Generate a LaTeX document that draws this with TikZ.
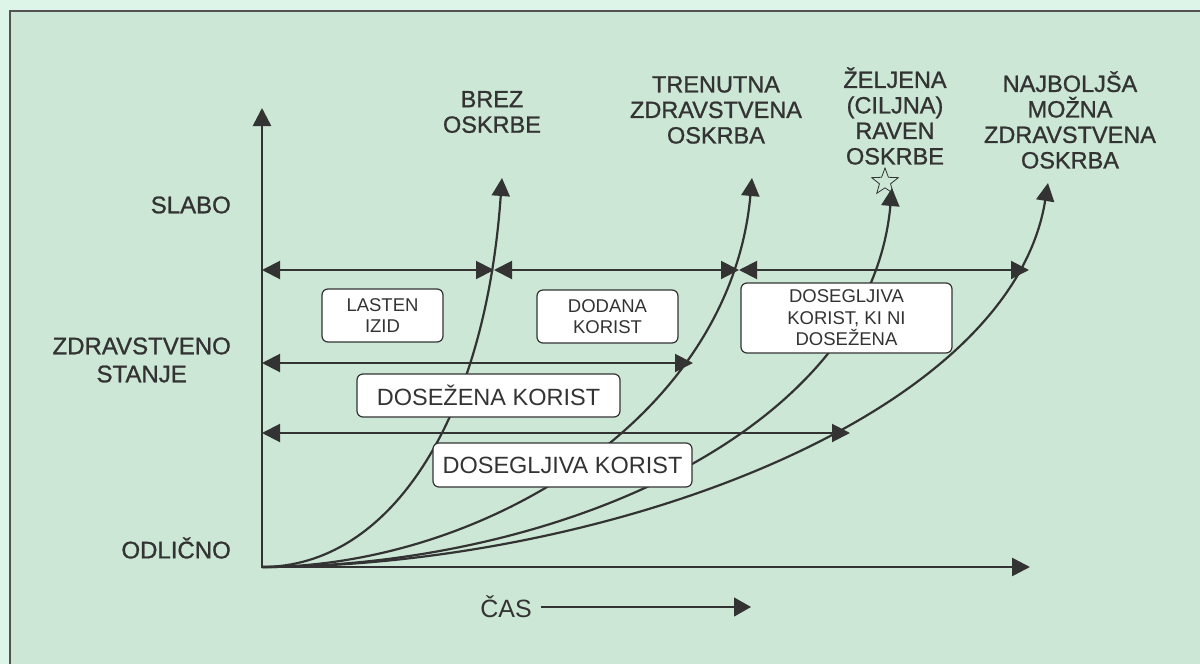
\documentclass[tikz,border=0pt]{standalone}
\usepackage{fontspec}
\setmainfont{Liberation Sans}
\newfontfamily\headfont[FakeBold=1]{Liberation Sans}
\usetikzlibrary{positioning,arrows.meta,shapes.geometric}
\definecolor{bg}{HTML}{CCE7D6}
\definecolor{outer}{HTML}{DDF5E8}
\definecolor{ink}{HTML}{333333}

\begin{document}
\begin{tikzpicture}[x=1pt,y=-1pt]
		\tikzstyle{ax} = [line width=2.6, draw=ink, {Triangle[length=18pt,width=18pt]}-{Triangle[length=18pt,width=18pt]}]
		\tikzstyle{curve} = [line width=2.2, draw=ink, -{Triangle[length=18pt,width=18pt]}]
		\tikzstyle{span} = [line width=2, draw=ink, {Triangle[length=18pt,width=18pt]}-{Triangle[length=18pt,width=18pt]}]
		\tikzstyle{thinarrow} = [line width=1.3, draw=ink, -{Triangle[length=17pt,width=19pt]}]
		\tikzstyle{lbl} = [text=ink, align=center, inner sep=0, font=\headfont\fontsize{23.5}{25.5}\selectfont]
		\tikzstyle{axlbl} = [text=ink, align=center, inner sep=0, font=\headfont\fontsize{24}{28}\selectfont]
		\tikzstyle{box} = [draw=ink, line width=1.2, fill=white, rounded corners=6, align=center, text=ink, inner sep=0]
		\tikzstyle{small} = [font=\fontsize{18.5}{21.5}\selectfont]
		\tikzstyle{big} = [font=\fontsize{23.5}{26}\selectfont]
		\useasboundingbox (0,0) rectangle (1200,664);
		\fill [outer] (0,0) rectangle (1200,664);
		\draw [fill=bg, draw=ink!85, line width=2] (10,11) rectangle (1215,680);
		% axes
		\coordinate (v0) at (262,567);
		\coordinate (v1) at (262,108);
		\coordinate (v2) at (1030,567);
		\draw [ax] (v1) -- (v0) -- (v2);
		\node [axlbl, anchor=east] (v3) at (231,205) {SLABO};
		\node [axlbl, anchor=east] (v4) at (231,360) {ZDRAVSTVENO\\STANJE};
		\node [axlbl, anchor=east] (v5) at (231,548) {ODLIČNO};
		% curve labels
		\node [lbl] (v6) at (492,112) {BREZ\\OSKRBE};
		\node [lbl] (v7) at (716,110) {TRENUTNA\\ZDRAVSTVENA\\OSKRBA};
		\node [lbl] (v8) at (895,116) {ŽELJENA\\(CILJNA)\\RAVEN\\OSKRBE};
		\node [lbl] (v9) at (1070,120) {NAJBOLJŠA\\MOŽNA\\ZDRAVSTVENA\\OSKRBA};
		\node [star, star points=5, star point ratio=2.4, draw=ink, line width=0.8, minimum size=28, inner sep=0] (v10) at (885,182) {};
		% curves
		\coordinate (v11) at (502,178);
		\coordinate (v12) at (752,178);
		\coordinate (v13) at (892,188);
		\coordinate (v14) at (1048,183);
		\draw [curve] (v0) .. controls +(128,0) and +(-17,242) .. (v11);
		\draw [curve] (v0) .. controls +(218,0) and +(-22,242) .. (v12);
		\draw [curve] (v0) .. controls +(298,0) and +(-22,242) .. (v13);
		\draw [curve] (v0) .. controls +(338,0) and +(-38,237) .. (v14);
		% spans
		\coordinate (v15) at (262,270);
		\coordinate (v16) at (494,270);
		\coordinate (v17) at (739,270);
		\coordinate (v18) at (1029,270);
		\draw [span] (v15) -- (v16);
		\draw [span] (v16) -- (v17);
		\draw [span] (v17) -- (v18);
		\coordinate (v19) at (262,363);
		\coordinate (v20) at (693,363);
		\draw [span] (v19) -- (v20);
		\coordinate (v21) at (262,433);
		\coordinate (v22) at (850,433);
		\draw [span] (v21) -- (v22);
		% boxes
		\node [box, small, minimum width=121, minimum height=53] (v23) at (382.5,315.5) {LASTEN\\IZID};
		\node [box, small, minimum width=141, minimum height=53] (v24) at (607.5,316.5) {DODANA\\KORIST};
		\node [box, small, minimum width=211, minimum height=70] (v25) at (846.5,318) {DOSEGLJIVA\\KORIST, KI NI\\DOSEŽENA};
		\node [box, big, minimum width=263, minimum height=43] (v26) at (488.5,395.5) {DOSEŽENA KORIST};
		\node [box, big, minimum width=259, minimum height=44] (v27) at (562.5,465) {DOSEGLJIVA KORIST};
		% time
		\node [text=ink, inner sep=0, font=\fontsize{25}{28}\selectfont] (v28) at (506,607) {ČAS};
		\coordinate (v29) at (751,607);
		\draw [thinarrow, shorten <=9pt] (v28.east) -- (v29);
\end{tikzpicture}
\end{document}
